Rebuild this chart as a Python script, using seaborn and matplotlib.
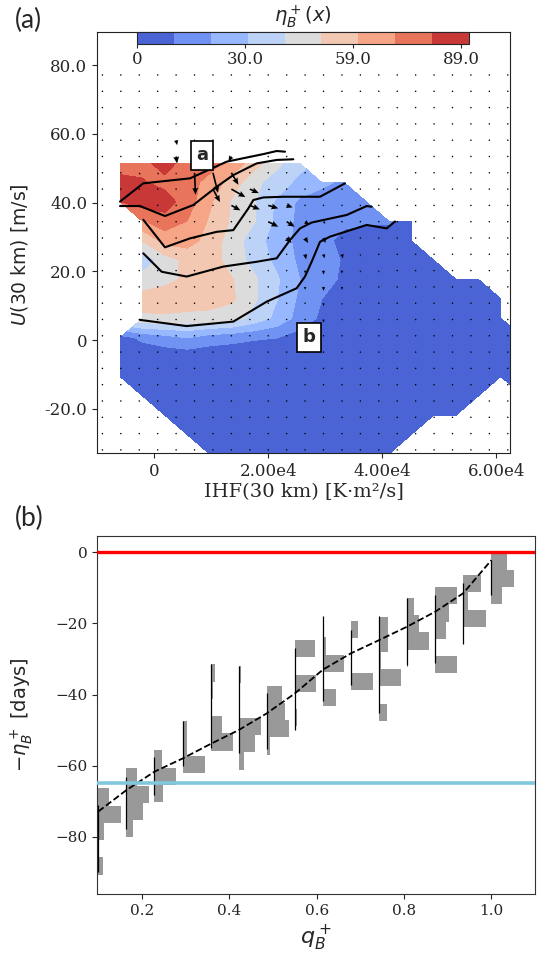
import numpy as np
import matplotlib
matplotlib.use("Agg")
import matplotlib.pyplot as plt
import seaborn as sns

# ---------------- panel (a) data ----------------
ihf_grid = np.linspace(-6000, 64700, 19)     # IHF(30 km) grid of the eta field
u_grid = np.linspace(51.5, -33.1, 16)         # U(30 km) grid, top row first
N = np.nan
eta_field = np.array([
    [72, 76, 84, 74, 73, 66, 54, 42, 33, N, N, N, N, N, N, N, N, N, N],
    [84, 80, 76, 73, 66, 55, 42, 35, 27, 22, 18, N, N, N, N, N, N, N, N],
    [79, 84, 84, 74, 61, 48, 40, 28, 18, 15, 14, 13, N, N, N, N, N, N, N],
    [N, 68, 75, 69, 58, 48, 40, 27, 17, 14, 12, 11, 11, 6, N, N, N, N, N],
    [N, 50, 63, 64, 55, 45, 34, 25, 17, 13, 7, 5, 4, 4, N, N, N, N, N],
    [N, 32, 45, 52, 54, 45, 36, 27, 18, 14, 9, 5, 4, 4, 4, N, N, N, N],
    [N, 44, 47, 51, 53, 50, 41, 31, 20, 14, 8, 4, 4, 4, 4, 4, 4, N, N],
    [N, 53, 54, 54, 54, 51, 41, 30, 18, 10, 4, 4, 4, 4, 4, 4, 4, 4, N],
    [N, 48, 48, 47, 46, 44, 36, 27, 16, 8, 3, 3, 3, 3, 3, 3, 3, 3, N],
    [6, 12, 16, 20, 15, 13, 11, 10, 6, 3, 3, 3, 3, 3, 3, 3, 3, 3, 3],
    [3, 3, 3, 3, 3, 3, 3, 3, 3, 3, 3, 3, 3, 3, 3, 3, 3, 3, 3],
    [3, 3, 3, 3, 3, 3, 3, 3, 3, 3, 3, 3, 3, 3, 3, 3, 3, 3, 3],
    [N, 3, 3, 3, 3, 3, 3, 3, 3, 3, 3, 3, 3, 3, 3, 3, 3, N, 3],
    [N, N, 3, 3, 3, 3, 3, 3, 3, 3, 3, 3, 3, 3, 3, 3, N, N, N],
    [N, N, N, 3, 3, 3, 3, 3, 3, 3, 3, 3, 3, 3, N, N, N, N, N],
    [N, N, N, N, 3, 3, 3, 3, 3, 3, 3, 3, 3, N, N, N, N, N, N],
])
eta_levels = np.linspace(0, 89, 10)
cbar_ticks = [0, 28.95, 57.9, 86.85]
cbar_ticklabels = ["0", "30.0", "59.0", "89.0"]

# black curves
curve1_ihf = [-6016, -1929, 6262, 12693, 19120, 21463, 22925]
curve1_u = [40.3, 45.6, 47.05, 51.9, 54.1, 55.0, 54.8]
curve2_ihf = [-6016, -2508, 1877, 6841, 10940, 13860, 17955, 21463, 24380]
curve2_u = [39.0, 39.0, 36.1, 39.3, 44.6, 48.0, 51.4, 52.4, 52.6]
curve3_ihf = [-1929, 1877, 6262, 10940, 13860, 16490, 17370, 19120, 22630, 29064, 33450]
curve3_u = [35.0, 27.0, 29.6, 31.5, 32.0, 38.3, 40.75, 41.5, 41.7, 41.7, 45.6]
curve4_ihf = [-1929, 1292, 5677, 12105, 17955, 21463, 23800, 25555, 27600, 33740, 37250, 38126]
curve4_u = [25.25, 19.9, 18.5, 21.4, 22.8, 23.8, 29.1, 32.5, 34.2, 36.4, 39.0, 38.8]
curve5_ihf = [-2508, 5677, 13860, 19710, 24970, 26430, 27600, 29064, 30818, 37250, 40757, 42220]
curve5_u = [5.9, 4.1, 5.4, 11.2, 15.1, 18.5, 22.8, 28.6, 30.1, 33.5, 32.5, 34.5]

# quiver field (most vectors are zero -> dots)
quiver_ihf = np.linspace(-9100, 62000, 23)
quiver_u = np.linspace(77.1, -31.9, 24)   # top row first
arrow_col = [4, 4, 2, 3, 4, 5, 6, 7, 7, 6, 7, 8, 9, 7, 8, 9, 10, 9, 10, 11, 12,
             10, 11, 12, 11, 12, 13, 11, 12, 13, 14, 11, 12, 13, 12, 13, 12, 14, 15]
arrow_row = [4, 5, 6, 6, 6, 6, 6, 6, 5, 7, 7, 7, 7, 8, 8, 8, 8, 9, 9, 9, 9,
             10, 10, 10, 11, 11, 11, 12, 12, 12, 12, 13, 13, 13, 14, 14, 15, 11, 12]
arrow_du = [1, 1, 1, 1, 0, 1, 5, 7, -3, 7, 14, 9, 2, 9, 10, 10, 6, 10, 8, 4, 2,
            5, 3, 2, 1, 1, 1, 0, 0, 0, 0, 0, 0, 0, 0, 0, 0, 0, 0]
arrow_dv = [-5, -7, -2, -2, -2, -22, -20, -12, -5, -13, -8, -4, -1, -5, -4, -3, -2, -5, -5, -3, -2,
            -5, -5, -5, -5, -4, -4, -3, -4, -3, -2, -3, -4, -3, -3, -2, -3, -2, -2]

label_a_pos = (8370, 53.8)
label_b_pos = (27100, 0.9)

# ---------------- panel (b) data ----------------
q_pos = np.linspace(0.1, 1.0, 15)
eta_mean = [-72.9, -66.9, -61.7, -58.0, -53.9, -50.0, -45.3, -39.7, -33.0, -28.4,
            -24.7, -20.9, -16.7, -11.5, -2.2]
hist_top = [-66.4, -60.8, -55.7, -47.5, -31.5, -32.0, -37.5, -24.7, -23.9, -19.3,
            -18.3, -12.8, -9.8, -6.4, 0.0]
hist_widths = [
    [0.024, 0.052, 0.014, 0.002, 0.011],
    [0.024, 0.051, 0.037, 0.015],
    [0.018, 0.050, 0.020],
    [0.010, 0.011, 0.051],
    [0.011, 0.005, 0.0, 0.026, 0.051],
    [0.006, 0.004, 0.0, 0.050, 0.038, 0.012],
    [0.034, 0.041, 0.051, 0.008],
    [0.046, 0.0, 0.048, 0.0, 0.005],
    [0.006, 0.048, 0.0, 0.031],
    [0.015, 0.0, 0.0, 0.050],
    [0.021, 0.021, 0.004, 0.050, 0.003, 0.018],
    [0.015, 0.027, 0.050, 0.003],
    [0.051, 0.032, 0.024, 0.003, 0.051],
    [0.040, 0.012, 0.052, 0.002],
    [0.036, 0.051, 0.024],
]
bin_height = 4.85
span_hi = [-71.0, -63.2, -57.6, -47.5, -31.5, -32.0, -39.7, -27.0, -18.0, -21.8,
           -18.0, -12.8, -12.0, -8.6, -2.2]
span_lo = [-90.0, -77.8, -68.2, -60.0, -55.0, -56.5, -55.3, -50.0, -41.8, -37.4,
           -45.3, -31.6, -31.2, -25.7, -12.0]
eta_upper_ref = 0.0
eta_lower_ref = -65.0

# ---------------- figure ----------------
sns.set_style("ticks")
plt.rcParams["font.family"] = ["DejaVu Sans"]
plt.rcParams["mathtext.fontset"] = "dejavusans"

W, H = 537, 957
fig = plt.figure(figsize=(W / 100, H / 100), dpi=100)
ax_a = fig.add_axes([97 / W, 1 - 453 / H, 413 / W, 421 / H])
ax_b = fig.add_axes([97 / W, 1 - 894.3 / H, 438 / W, 358.3 / H])
cax = fig.add_axes([137 / W, 1 - 44.3 / H, 332 / W, 12.6 / H])

serif = "DejaVu Serif"

# panel a
Z = np.ma.masked_invalid(eta_field[::-1])
cf = ax_a.contourf(ihf_grid, u_grid[::-1], Z, levels=eta_levels, cmap="coolwarm", zorder=1)
for cx, cy in [(curve1_ihf, curve1_u), (curve2_ihf, curve2_u), (curve3_ihf, curve3_u),
               (curve4_ihf, curve4_u), (curve5_ihf, curve5_u)]:
    sns.lineplot(x=cx, y=cy, ax=ax_a, color="black", lw=1.5, sort=False,
                 estimator=None, zorder=3)

QX, QY = np.meshgrid(quiver_ihf, quiver_u)
QU = np.zeros_like(QX)
QV = np.zeros_like(QX)
for c, r, du, dv in zip(arrow_col, arrow_row, arrow_du, arrow_dv):
    QU[r, c] = du
    QV[r, c] = dv
ax_a.quiver(QX, QY, QU, QV, angles="uv", scale_units="width", scale=413,
            width=0.004, headwidth=3.6, headlength=4.2, headaxislength=3.7,
            color="black", zorder=4)

for txt, pos in [("a", label_a_pos), ("b", label_b_pos)]:
    ax_a.text(pos[0], pos[1], txt, fontsize=13, fontweight="bold", ha="center", va="center",
              bbox=dict(boxstyle="square,pad=0.3", fc="white", ec="black", lw=1.2), zorder=5)

ax_a.set_xlim(-10050, 62390)
ax_a.set_ylim(-32.8, 89.6)
ax_a.set_xticks([0, 20000, 40000, 60000], ["0", "2.00e4", "4.00e4", "6.00e4"],
                fontfamily=serif, fontsize=12)
ax_a.set_yticks([-20, 0, 20, 40, 60, 80], ["-20.0", "0", "20.0", "40.0", "60.0", "80.0"],
                fontfamily=serif, fontsize=12)
ax_a.set_xlabel("IHF(30 km) [K\u00b7m\u00b2/s]", fontfamily=serif, fontsize=14, va="top")
ax_a.xaxis.set_label_coords(0.5, -0.072)
ax_a.set_ylabel("$U$(30 km) [m/s]", fontsize=13.5)
ax_a.yaxis.set_label_coords(-0.162, 0.47)
for s in ax_a.spines.values():
    s.set_color("#222222")

cb = fig.colorbar(cf, cax=cax, orientation="horizontal")
cb.set_ticks(cbar_ticks)
cb.set_ticklabels(cbar_ticklabels)
cax.tick_params(labelsize=12, length=3, pad=2)
for t in cax.get_xticklabels():
    t.set_fontfamily(serif)
cb.outline.set_linewidth(0.8)
fig.text(303 / W, 1 - 17 / H, r"$\eta_B^+(x)$", fontsize=14, ha="center", va="center")

# panel b
for p, top, widths in zip(q_pos, hist_top, hist_widths):
    for j, w in enumerate(widths):
        if w > 0:
            ax_b.barh(top - (j + 0.5) * bin_height, w, height=bin_height, left=p,
                      color="#999999", linewidth=0, zorder=2)
ax_b.vlines(q_pos, span_lo, span_hi, color="black", lw=0.9, zorder=3)
sns.lineplot(x=q_pos, y=eta_mean, ax=ax_b, color="black", lw=1.3, linestyle="--", zorder=4)
ax_b.axhline(eta_upper_ref, color="red", lw=2.4, zorder=5)
ax_b.axhline(eta_lower_ref, color="#7fc8de", lw=2.6, zorder=5)
ax_b.set_xlim(0.097, 1.1)
ax_b.set_ylim(-96.2, 4.6)
ax_b.set_xticks([0.2, 0.4, 0.6, 0.8, 1.0], ["0.2", "0.4", "0.6", "0.8", "1.0"],
                fontfamily=serif, fontsize=11)
ax_b.set_yticks([-80, -60, -40, -20, 0], ["\u221280", "\u221260", "\u221240", "\u221220", "0"],
                fontfamily=serif, fontsize=11)
ax_b.set_xlabel(r"$q_B^+$", fontsize=16, va="top")
ax_b.xaxis.set_label_coords(0.5, -0.082)
ax_b.set_ylabel(r"$-\eta_B^+$ [days]", fontsize=14)
ax_b.yaxis.set_label_coords(-0.142, 0.5)
for s in ax_b.spines.values():
    s.set_color("#333333")

fig.text(15 / W, 1 - 20 / H, "(a)", fontsize=19, family=["Lato", "DejaVu Sans"], va="center")
fig.text(15 / W, 1 - 518 / H, "(b)", fontsize=19, family=["Lato", "DejaVu Sans"], va="center")

fig.savefig("out.png", dpi=100)
